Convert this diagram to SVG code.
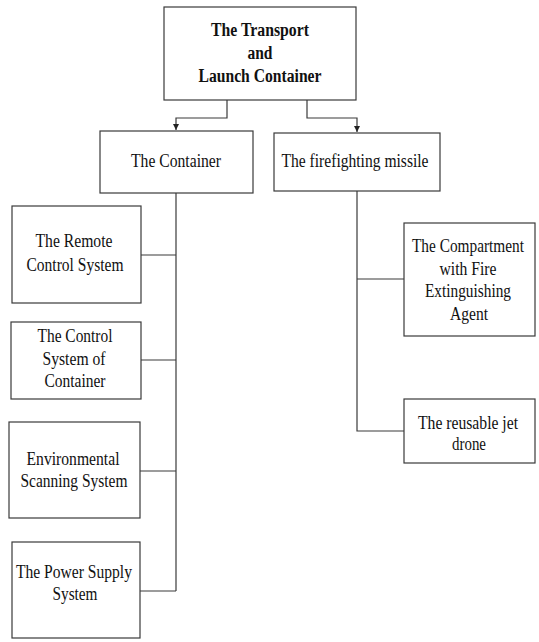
<svg xmlns="http://www.w3.org/2000/svg" width="539" height="642" viewBox="0 0 539 642">
<style>
.box{fill:#fff;stroke:#3a3a3a;stroke-width:1.2}
.ln{fill:none;stroke:#3a3a3a;stroke-width:1.2}
text{font-family:"Liberation Serif","Times New Roman",serif;font-size:18px;fill:#111;text-anchor:middle}
.b{font-weight:bold}
</style>
<defs>
<marker id="ar" viewBox="0 0 10 10" refX="10" refY="5" markerWidth="6" markerHeight="6" orient="auto" markerUnits="userSpaceOnUse">
<path d="M0,0 L10,5 L0,10 Z" fill="#222"/>
</marker>
</defs>
<rect width="539" height="642" fill="#fff"/>
<g id="connectors">
<path class="ln" d="M227,100 V118 H176 V130" marker-end="url(#ar)"/>
<path class="ln" d="M307,100 V118 H357 V132" marker-end="url(#ar)"/>
<path class="ln" d="M176,193 V591"/>
<path class="ln" d="M141,255 H176"/>
<path class="ln" d="M141,360 H176"/>
<path class="ln" d="M140,471 H176"/>
<path class="ln" d="M140,591 H176"/>
<path class="ln" d="M357,191 V431 H404"/>
<path class="ln" d="M357,279 H404"/>
</g>
<g id="root">
<rect class="box" x="164" y="7" width="192" height="93"/>
<text class="b" x="260" y="36" textLength="98" lengthAdjust="spacingAndGlyphs">The Transport</text>
<text class="b" x="260" y="59" textLength="25" lengthAdjust="spacingAndGlyphs">and</text>
<text class="b" x="260" y="82" textLength="123" lengthAdjust="spacingAndGlyphs">Launch Container</text>
</g>
<g id="container">
<rect class="box" x="100" y="131" width="153" height="62"/>
<text x="176" y="167" textLength="90" lengthAdjust="spacingAndGlyphs">The Container</text>
</g>
<g id="missile">
<rect class="box" x="274" y="133" width="166" height="58"/>
<text x="355" y="167" textLength="147" lengthAdjust="spacingAndGlyphs">The firefighting missile</text>
</g>
<g id="remote">
<rect class="box" x="12" y="206" width="129" height="97"/>
<text x="74" y="247" textLength="77" lengthAdjust="spacingAndGlyphs">The Remote</text>
<text x="75" y="271" textLength="97" lengthAdjust="spacingAndGlyphs">Control System</text>
</g>
<g id="control">
<rect class="box" x="11" y="322" width="130" height="77"/>
<text x="75" y="342" textLength="75" lengthAdjust="spacingAndGlyphs">The Control</text>
<text x="74" y="365" textLength="63" lengthAdjust="spacingAndGlyphs">System of</text>
<text x="75" y="387" textLength="61" lengthAdjust="spacingAndGlyphs">Container</text>
</g>
<g id="environmental">
<rect class="box" x="9" y="422" width="131" height="96"/>
<text x="73" y="465" textLength="93" lengthAdjust="spacingAndGlyphs">Environmental</text>
<text x="74" y="487" textLength="107" lengthAdjust="spacingAndGlyphs">Scanning System</text>
</g>
<g id="power">
<rect class="box" x="12" y="542" width="128" height="96"/>
<text x="74" y="578" textLength="116" lengthAdjust="spacingAndGlyphs">The Power Supply</text>
<text x="75" y="600" textLength="45" lengthAdjust="spacingAndGlyphs">System</text>
</g>
<g id="compartment">
<rect class="box" x="404" y="223" width="131" height="113"/>
<text x="468" y="252" textLength="112" lengthAdjust="spacingAndGlyphs">The Compartment</text>
<text x="468" y="275" textLength="57" lengthAdjust="spacingAndGlyphs">with Fire</text>
<text x="468" y="297" textLength="86" lengthAdjust="spacingAndGlyphs">Extinguishing</text>
<text x="469" y="320" textLength="38" lengthAdjust="spacingAndGlyphs">Agent</text>
</g>
<g id="drone">
<rect class="box" x="404" y="399" width="131" height="64"/>
<text x="468" y="429" textLength="100" lengthAdjust="spacingAndGlyphs">The reusable jet</text>
<text x="469" y="450" textLength="34" lengthAdjust="spacingAndGlyphs">drone</text>
</g>
</svg>
